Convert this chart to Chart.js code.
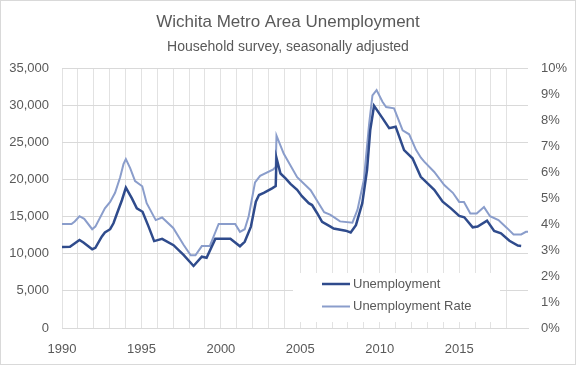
<!DOCTYPE html>
<html>
<head>
<meta charset="utf-8">
<script src="https://cdn.jsdelivr.net/npm/chart.js@4"></script>
<style>
    html, body { margin: 0; padding: 0; background: #fff; }
    #wrap { width: 576px; height: 365px; }
</style>
</head>
<body>
<div id="wrap"><canvas id="chart" width="576" height="365"></canvas></div>
<script>
// Wichita metro unemployment
const unempYears = [
    1990.0, 1990.5, 1991.1, 1991.35, 1991.9, 1992.1, 1992.5, 1992.7, 1993.03, 1993.24,
    1993.45, 1993.77, 1994.02, 1994.4, 1994.71, 1995.07, 1995.45, 1995.8, 1996.3, 1997.02,
    1997.65, 1998.28, 1998.8, 1999.1, 1999.65, 2000.6, 2001.2, 2001.5, 2001.89, 2002.2,
    2002.4, 2002.7, 2003.22, 2003.45, 2003.5, 2003.75, 2004.07, 2004.38, 2004.8, 2005.1,
    2005.53, 2005.74, 2006.06, 2006.37, 2006.9, 2007.1, 2007.85, 2008.17, 2008.5, 2008.9,
    2009.2, 2009.4, 2009.64, 2010.17, 2010.59, 2011.0, 2011.53, 2012.06, 2012.58, 2013.43,
    2013.96, 2014.48, 2015.0, 2015.32, 2015.85, 2016.16, 2016.75, 2017.2, 2017.63, 2018.16,
    2018.69, 2018.9
];
const unempValues = [
    10900, 10950, 11850, 11500, 10600, 10800, 12300, 12850, 13300, 14100,
    15350, 17200, 18900, 17450, 16100, 15650, 13650, 11700, 12000, 11150,
    9850, 8350, 9600, 9450, 12000, 12000, 11000, 11600, 13650, 17000,
    17900, 18200, 18800, 19100, 22900, 20800, 20150, 19400, 18600, 17750,
    16800, 16550, 15450, 14300, 13650, 13400, 13100, 12850, 13850, 16800,
    21300, 26650, 29900, 28250, 26900, 27100, 23950, 22850, 20350, 18600,
    17000, 16100, 15100, 14900, 13550, 13650, 14450, 13050, 12750, 11750,
    11100, 11050
];

const rateYears = [
    1990.0, 1990.6, 1990.8, 1991.1, 1991.4, 1991.9, 1992.1, 1992.7, 1993.03, 1993.34,
    1993.66, 1993.87, 1994.02, 1994.29, 1994.6, 1995.05, 1995.33, 1995.9, 1996.3, 1997.0,
    1997.65, 1998.1, 1998.4, 1998.8, 1999.3, 1999.86, 2000.9, 2001.2, 2001.5, 2001.75,
    2002.15, 2002.47, 2003.3, 2003.45, 2003.5, 2003.96, 2004.8, 2005.65, 2006.2, 2006.5,
    2006.9, 2007.5, 2008.28, 2008.6, 2009.0, 2009.33, 2009.54, 2009.8, 2010.17, 2010.4,
    2010.9, 2011.44, 2011.85, 2012.28, 2012.59, 2012.8, 2013.43, 2014.06, 2014.6, 2015.0,
    2015.3, 2015.7, 2016.1, 2016.56, 2016.94, 2017.47, 2018.0, 2018.42, 2018.9, 2019.2,
    2019.33
];
const rateValues = [
    4.0, 4.0, 4.1, 4.3, 4.2, 3.8, 3.9, 4.6, 4.85, 5.2,
    5.8, 6.3, 6.5, 6.15, 5.65, 5.45, 4.8, 4.15, 4.25, 3.85,
    3.2, 2.8, 2.8, 3.15, 3.15, 4.0, 4.0, 3.7, 3.8, 4.3,
    5.6, 5.85, 6.1, 6.2, 7.4, 6.7, 5.8, 5.3, 4.75, 4.45,
    4.35, 4.1, 4.05, 4.55, 5.7, 7.85, 8.95, 9.15, 8.7, 8.5,
    8.45, 7.6, 7.45, 6.85, 6.55, 6.4, 6.0, 5.5, 5.2, 4.85,
    4.85, 4.4, 4.4, 4.65, 4.3, 4.15, 3.85, 3.6, 3.6, 3.7,
    3.7
];

const xMin = 1990, xMax = 2019.33;
const leftTicks = [0, 5000, 10000, 15000, 20000, 25000, 30000, 35000];
const rightTicks = [0, 1, 2, 3, 4, 5, 6, 7, 8, 9, 10];
const xLabelYears = [1990, 1995, 2000, 2005, 2010, 2015];

const seriesNames = ['Unemployment', 'Unemployment Rate'];
const colors = { dark: '#2f4b8c', light: '#8a9dcb', grid: '#d9d9d9', text: '#595959' };

Chart.defaults.font.family = "'Liberation Sans', Arial, sans-serif";
Chart.defaults.font.size = 13;
Chart.defaults.color = colors.text;

// Inset legend with a white box, plus the outer frame
const insetLegend = {
    id: 'insetLegend',
    beforeDatasetsDraw(chart) {
        const ctx = chart.ctx;
        ctx.save();
        ctx.fillStyle = '#fff';
        ctx.fillRect(293, 273, 207, 49);
        const rows = [
            { y: 284, color: colors.dark, width: 2.5 },
            { y: 306.5, color: colors.light, width: 2 }
        ];
        rows.forEach((r, i) => {
            ctx.strokeStyle = r.color;
            ctx.lineWidth = r.width;
            ctx.beginPath();
            ctx.moveTo(322, r.y);
            ctx.lineTo(350, r.y);
            ctx.stroke();
            ctx.fillStyle = colors.text;
            ctx.font = "13px 'Liberation Sans', Arial, sans-serif";
            ctx.textBaseline = 'middle';
            ctx.fillText(seriesNames[i], 353, r.y);
        });
        ctx.restore();
    },
    afterDraw(chart) {
        const ctx = chart.ctx;
        ctx.save();
        ctx.strokeStyle = colors.grid;
        ctx.lineWidth = 1;
        ctx.strokeRect(0.5, 0.5, chart.width - 1, chart.height - 1);
        ctx.restore();
    }
};

new Chart(document.getElementById('chart'), {
    type: 'line',
    data: {
        datasets: [
            {
                label: seriesNames[0],
                data: unempYears.map((x, i) => ({ x, y: unempValues[i] })),
                borderColor: colors.dark,
                borderWidth: 2.5,
                pointRadius: 0,
                tension: 0,
                yAxisID: 'y'
            },
            {
                label: seriesNames[1],
                data: rateYears.map((x, i) => ({ x, y: rateValues[i] })),
                borderColor: colors.light,
                borderWidth: 2,
                pointRadius: 0,
                tension: 0,
                yAxisID: 'y1'
            }
        ]
    },
    options: {
        responsive: false,
        animation: false,
        layout: { padding: 0 },
        plugins: {
            legend: { display: false },
            tooltip: { enabled: false },
            title: {
                display: true,
                text: 'Wichita Metro Area Unemployment',
                color: colors.text,
                font: { size: 17, weight: 'normal' },
                padding: { top: 12, bottom: 0 }
            },
            subtitle: {
                display: true,
                text: 'Household survey, seasonally adjusted',
                color: colors.text,
                font: { size: 14, weight: 'normal' },
                padding: { top: 6, bottom: 12.8 }
            }
        },
        scales: {
            x: {
                type: 'linear',
                min: xMin,
                max: xMax,
                afterBuildTicks: (s) => { s.ticks = s.ticks.filter(t => Number.isInteger(t.value)); },
                afterFit: (s) => { s.height = 37; },
                border: { color: colors.grid },
                grid: { color: '#e2e2e2', drawTicks: false },
                ticks: {
                    stepSize: 1,
                    autoSkip: false,
                    maxRotation: 0,
                    padding: 14,
                    callback: (v) => xLabelYears.includes(v) ? String(v) : ''
                }
            },
            y: {
                position: 'left',
                min: 0,
                max: 35000,
                afterBuildTicks: (s) => { s.ticks = leftTicks.map(v => ({ value: v })); },
                afterFit: (s) => { s.width = 62; },
                border: { display: false },
                grid: { color: colors.grid, drawTicks: false },
                ticks: { padding: 13, callback: (v) => v.toLocaleString('en-US') }
            },
            y1: {
                position: 'right',
                min: 0,
                max: 10,
                afterBuildTicks: (s) => { s.ticks = rightTicks.map(v => ({ value: v })); },
                afterFit: (s) => { s.width = 48; },
                border: { display: false },
                grid: { display: false, drawTicks: false },
                ticks: { padding: 13, callback: (v) => v + '%' }
            }
        }
    },
    plugins: [insetLegend]
});
</script>
</body>
</html>
